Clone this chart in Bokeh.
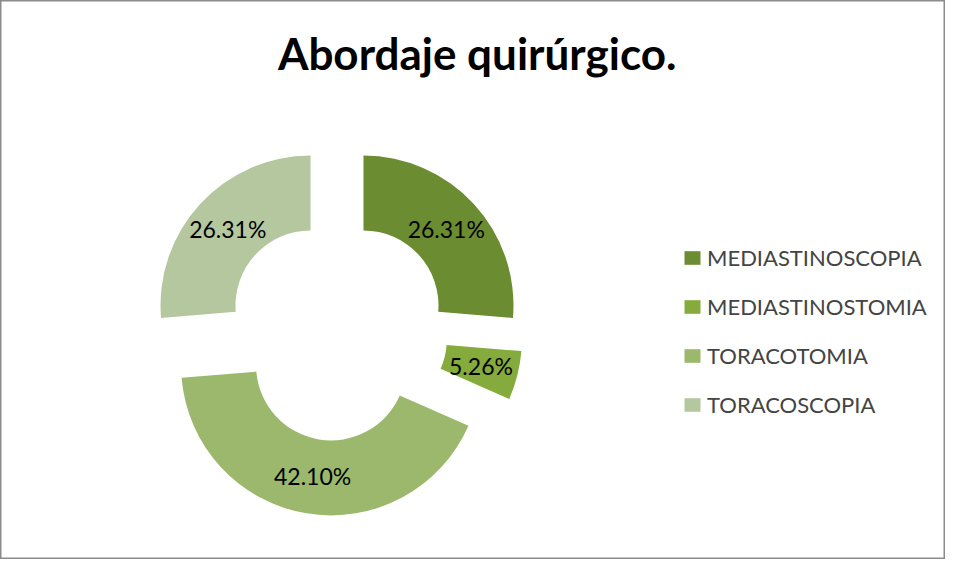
import numpy as np
from bokeh.plotting import figure
from bokeh.models import Range1d, Label, Legend, LegendItem, ColumnDataSource
from bokeh.core.properties import value
from bokeh.embed import file_html
from bokeh.resources import INLINE

# ---- data ----
categories = ["MEDIASTINOSCOPIA", "MEDIASTINOSTOMIA", "TORACOTOMIA", "TORACOSCOPIA"]
values = [26.31, 5.26, 42.10, 26.31]
labels = ["26.31%", "5.26%", "42.10%", "26.31%"]
colors = ["#6b8c30", "#84ab3b", "#9bb86c", "#b5c79f"]
title_text = "Abordaje  quirúrgico."

# ---- layout (pixels) ----
W, H = 945, 559
CX, CY = 336.5, H - 329.4
R_OUT, R_IN = 150, 75
EXPLODE = 36

vals = np.array(values, dtype=float)
frac = vals / vals.sum()
cum = np.concatenate([[0], np.cumsum(frac)]) * 360.0  # degrees clockwise from 12 o'clock
a0, a1 = cum[:-1], cum[1:]
mid = np.radians((a0 + a1) / 2)
xs = CX + EXPLODE * np.sin(mid)
ys = CY + EXPLODE * np.cos(mid)
start = np.radians(90 - a1)
end = np.radians(90 - a0)
rl = (R_OUT + R_IN) / 2
lx = xs + rl * np.sin(mid)
ly = ys + rl * np.cos(mid)

src = ColumnDataSource(dict(x=xs, y=ys, start=start, end=end, color=colors,
                            cat=categories, lx=lx, ly=ly, lab=labels))

p = figure(width=W, height=H, output_backend="svg", toolbar_location=None,
           x_range=Range1d(0, W), y_range=Range1d(0, H),
           x_axis_type=None, y_axis_type=None, min_border=0,
           background_fill_color="white", border_fill_color="white")
p.grid.visible = False
p.outline_line_color = "#8c8c8c"
p.outline_line_width = 2

r = p.annular_wedge(x="x", y="y", inner_radius=R_IN, outer_radius=R_OUT,
                    start_angle="start", end_angle="end", fill_color="color",
                    line_color=None, source=src)

p.text(x="lx", y="ly", text="lab", source=src, text_align="center",
       text_baseline="middle", text_font=value("Lato"), text_font_size="23px",
       text_color="black")

p.add_layout(Label(x=482, y=H - 52, text=title_text, text_align="center",
                   text_baseline="middle", text_font="Lato", text_font_style="bold",
                   text_font_size="44px", text_color="black"))

items = [LegendItem(label=c, renderers=[r], index=i) for i, c in enumerate(categories)]
legend = Legend(items=items, location=(682, 141), padding=0, margin=0,
                glyph_width=20, glyph_height=17, label_standoff=5,
                label_text_font="Lato", label_text_font_size="22px",
                label_height=20, spacing=22,
                border_line_color=None, background_fill_alpha=0)
p.add_layout(legend, "center")

open("out.html", "w").write(file_html(p, INLINE))
